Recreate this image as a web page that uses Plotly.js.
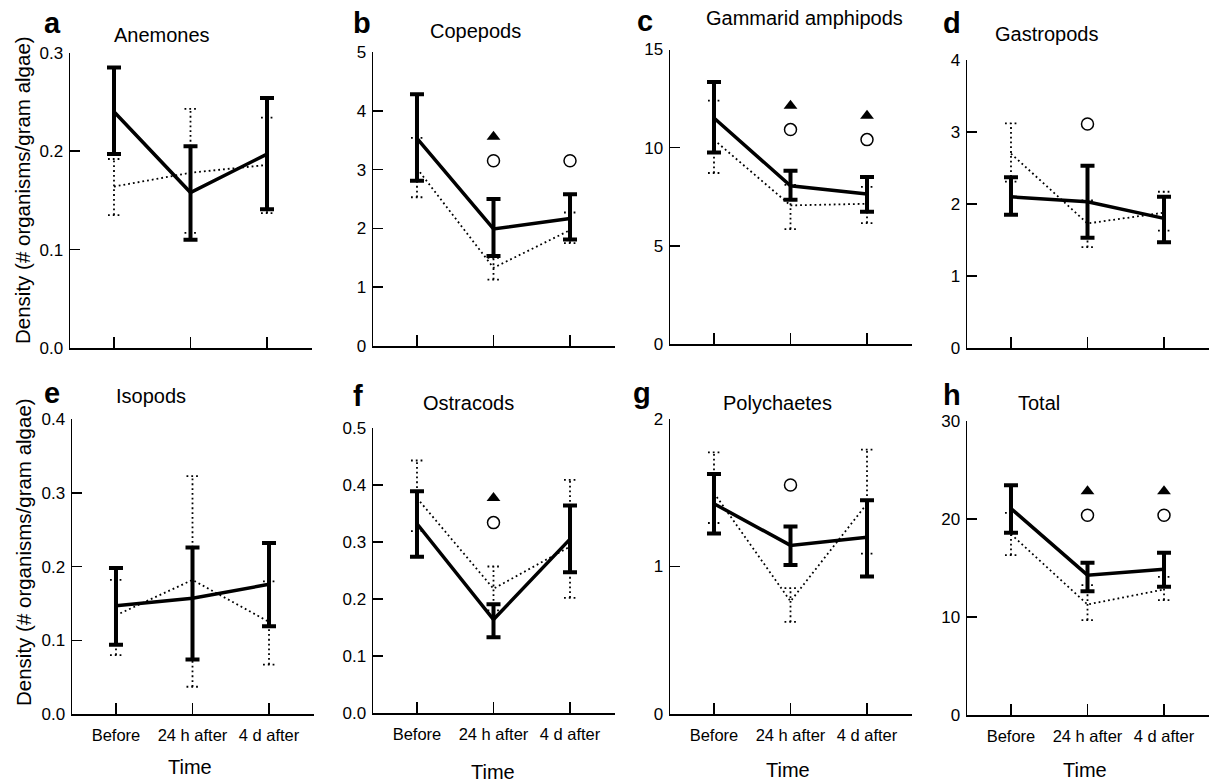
<!DOCTYPE html>
<html><head><meta charset="utf-8">
<script src="https://cdn.plot.ly/plotly-3.0.1.min.js"></script>
<style>html,body{margin:0;padding:0;background:#fff}</style>
</head><body><div id="chart" style="width:1211px;height:783px"></div>
<script>
// ---- data ----
const categories = ['Before', '24 h after', '4 d after'];
const panelNames = ['Anemones', 'Copepods', 'Gammarid amphipods', 'Gastropods', 'Isopods', 'Ostracods', 'Polychaetes', 'Total'];
const panelLetters = ['a', 'b', 'c', 'd', 'e', 'f', 'g', 'h'];
const yMax = [0.3, 5, 15, 4, 0.4, 0.5, 2, 30];
const yStep = [0.1, 1, 5, 1, 0.1, 0.1, 1, 10];
const yDecimals = [1, 0, 0, 0, 1, 1, 0, 0];

// solid series (thick line)
const solidMean = [[0.240,0.158,0.197],[3.53,1.99,2.17],[11.51,8.06,7.64],[2.10,2.03,1.80],[0.147,0.157,0.176],[0.332,0.164,0.305],[1.426,1.143,1.198],[21.07,14.27,14.88]];
const solidLow  = [[0.197,0.110,0.141],[2.81,1.53,1.81],[9.76,7.35,6.73],[1.85,1.53,1.47],[0.094,0.074,0.119],[0.274,0.133,0.247],[1.223,1.010,0.933],[18.59,12.64,13.08]];
const solidHigh = [[0.285,0.205,0.254],[4.28,2.50,2.58],[13.35,8.83,8.50],[2.37,2.53,2.10],[0.198,0.226,0.232],[0.389,0.191,0.364],[1.627,1.272,1.449],[23.45,15.53,16.55]];

// dotted series (thin dotted line)
const dottedMean = [[0.164,0.178,0.186],[3.02,1.33,1.97],[10.4,7.06,7.14],[2.70,1.73,1.88],[0.134,0.182,0.125],[0.377,0.218,0.292],[1.498,0.764,1.426],[18.45,11.28,12.81]];
const dottedLow  = [[0.135,0.117,0.137],[2.53,1.13,1.75],[8.71,5.85,6.16],[2.31,1.40,1.63],[0.080,0.037,0.067],[0.319,0.180,0.202],[1.295,0.624,1.087],[16.31,9.68,11.72]];
const dottedHigh = [[0.192,0.243,0.234],[3.54,1.50,2.27],[12.4,8.1,8.0],[3.12,2.05,2.17],[0.182,0.323,0.180],[0.443,0.257,0.409],[1.774,0.854,1.792],[20.63,13.25,14.1]];

// significance markers
const triangleY = [[null,null,null],[null,3.56,null],[null,12.14,11.63],[null,null,null],[null,null,null],[null,0.377,null],[null,null,null],[null,22.83,22.83]];
const circleY   = [[null,null,null],[null,3.15,3.15],[null,10.92,10.41],[null,3.11,null],[null,null,null],[null,0.334,null],[null,1.553,null],[null,20.39,20.39]];

// ---- layout geometry (pixels) ----
const W = 1211, H = 783;
const FONT = '"Liberation Sans", Arial, Helvetica, sans-serif';
const xDom = [[70,312],[373,615],[670,912],[967,1209],[72,314],[373,615],[670,912],[967,1209]];
const yDom = [[52.7,348],[52,346],[49.5,344],[60,348],[419.3,714],[428,713],[419,714],[421,715]];
const xRange = [-0.575, 2.588];
const capHalf = 6 / (242 / (xRange[1] - xRange[0])); // 6 px in data units

const xs = categories.map((c, i) => i);
const traces = [];
const layout = {
  width: W, height: H, margin: {l:0, r:0, t:0, b:0},
  paper_bgcolor: '#fff', plot_bgcolor: 'rgba(0,0,0,0)',
  showlegend: false, font: {family: FONT, color: '#000'},
  annotations: []
};

for (let p = 0; p < 8; p++) {
  const sfx = p === 0 ? '' : String(p + 1);
  const xa = 'x' + sfx, ya = 'y' + sfx;
  const bottomRow = p >= 4;

  // dotted error stems + caps
  const ex = [], ey = [];
  xs.forEach((x, j) => {
    ex.push(x, x, null); ey.push(dottedLow[p][j], dottedHigh[p][j], null);
    ex.push(x - capHalf, x + capHalf, null); ey.push(dottedLow[p][j], dottedLow[p][j], null);
    ex.push(x - capHalf, x + capHalf, null); ey.push(dottedHigh[p][j], dottedHigh[p][j], null);
  });
  traces.push({x: ex, y: ey, xaxis: xa, yaxis: ya, mode: 'lines', connectgaps: false,
    line: {color: '#000', width: 1.8, dash: '1.8px,3px'}, hoverinfo: 'skip', cliponaxis: false});
  traces.push({x: xs, y: dottedMean[p], xaxis: xa, yaxis: ya, mode: 'lines', name: 'dotted',
    line: {color: '#000', width: 1.8, dash: '1.8px,3px'}, cliponaxis: false});

  // solid series with error bars
  traces.push({x: xs, y: solidMean[p], xaxis: xa, yaxis: ya, mode: 'lines', name: 'solid',
    line: {color: '#000', width: 3.5}, cliponaxis: false,
    error_y: {type: 'data', symmetric: false,
      array: solidHigh[p].map((h, j) => h - solidMean[p][j]),
      arrayminus: solidLow[p].map((l, j) => solidMean[p][j] - l),
      color: '#000', thickness: 4, width: 7}});

  traces.push({x: xs, y: triangleY[p], xaxis: xa, yaxis: ya, mode: 'markers',
    marker: {symbol: 'triangle-up', size: 12, color: '#000'}, cliponaxis: false});
  traces.push({x: xs, y: circleY[p], xaxis: xa, yaxis: ya, mode: 'markers',
    marker: {symbol: 'circle-open', size: 12, color: '#000', line: {width: 1.5, color: '#000'}}, cliponaxis: false});

  layout['xaxis' + sfx] = {
    domain: [xDom[p][0] / W, xDom[p][1] / W], anchor: ya, range: xRange,
    tickvals: xs, ticktext: categories, showticklabels: bottomRow,
    ticks: 'inside', ticklen: 11, tickwidth: 1.5, tickcolor: '#000', ticklabelstandoff: 6,
    showline: true, linecolor: '#000', linewidth: 1.5, showgrid: false, zeroline: false,
    tickfont: {size: 16.5, family: FONT, color: '#000'}, fixedrange: true
  };
  layout['yaxis' + sfx] = {
    domain: [1 - yDom[p][1] / H, 1 - yDom[p][0] / H], anchor: xa, range: [0, yMax[p]],
    tick0: 0, dtick: yStep[p], tickformat: yDecimals[p] ? '.1f' : 'd',
    ticks: 'inside', ticklen: 10, tickwidth: 1.5, tickcolor: '#000', ticklabelstandoff: 2,
    showline: true, linecolor: '#000', linewidth: 1.5, showgrid: false, zeroline: false,
    tickfont: {size: 17, family: FONT, color: '#000'}, fixedrange: true
  };
}

// text annotations
const letterPos = [[52,23],[362,23],[645,21],[952,23],[52,393],[358,396],[642,393],[952,395]];
const titlePos = [[162,35],[475,31],[804,18],[1046,34],[151,396],[469,403],[777,403],[1039,403]];
const timePos = [[190,767],[493,772],[788,770],[1085,770]];
for (let p = 0; p < 8; p++) {
  layout.annotations.push({text: '<b>' + panelLetters[p] + '</b>', xref: 'paper', yref: 'paper',
    x: letterPos[p][0] / W, y: 1 - letterPos[p][1] / H, xanchor: 'center', yanchor: 'middle',
    showarrow: false, borderpad: 0, font: {size: 29, family: FONT, color: '#000'}});
  layout.annotations.push({text: panelNames[p], xref: 'paper', yref: 'paper',
    x: titlePos[p][0] / W, y: 1 - titlePos[p][1] / H, xanchor: 'center', yanchor: 'middle',
    showarrow: false, font: {size: 20, family: FONT, color: '#000'}});
}
timePos.forEach(t => layout.annotations.push({text: 'Time', xref: 'paper', yref: 'paper',
  x: t[0] / W, y: 1 - t[1] / H, xanchor: 'center', yanchor: 'middle', showarrow: false,
  font: {size: 20, family: FONT, color: '#000'}}));
[[23,190],[23,552]].forEach(t => layout.annotations.push({text: 'Density (# organisms/gram algae)',
  xref: 'paper', yref: 'paper', x: t[0] / W, y: 1 - t[1] / H, xanchor: 'center', yanchor: 'middle',
  textangle: -90, showarrow: false, font: {size: 20.5, family: FONT, color: '#000'}}));

Plotly.newPlot('chart', traces, layout, {displayModeBar: false, staticPlot: true});
</script></body></html>
